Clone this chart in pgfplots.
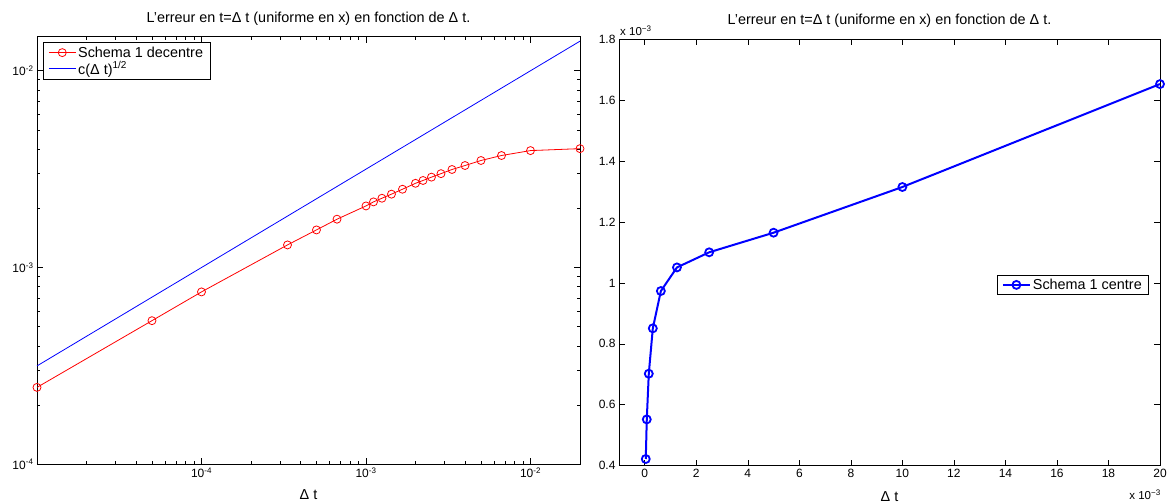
\documentclass[border=0pt]{standalone}
\usepackage{fontspec}
\setmainfont{Liberation Sans}
\usepackage{pgfplots}
\pgfplotsset{compat=1.18}

\newcommand{\txt}{\fontsize{14.4}{16}\selectfont}
\newcommand{\tck}{\fontsize{12}{14}\selectfont}
\newcommand{\pw}[1]{10\textsuperscript{#1}}

\pgfplotsset{
  matlab/.style={
    scale only axis,
    anchor=south west,
    axis line style={black, line width=0.9pt},
    tick align=inside,
    major tick length=6pt,
    minor tick length=3pt,
    every tick/.style={black, line width=0.6pt},
    tick label style={font=\tck},
    /pgf/number format/assume math mode=true,
    title style={font=\txt, anchor=south, at={(0.5,1)}, yshift=2pt},
    legend style={font=\txt, draw=black, line width=0.8pt, fill=white,
      inner xsep=5pt, inner ysep=2pt, row sep=-1pt, cells={anchor=west},
      /tikz/every even column/.append style={column sep=3pt}},
    legend image code/.code={%
      \draw[mark repeat=2, mark phase=2, #1]
        plot coordinates {(0pt,0pt) (13.5pt,0pt) (27pt,0pt)};},
  }
}

\begin{document}
\begin{tikzpicture}
\useasboundingbox (0,0) rectangle (1168pt,502pt);

% Schema 1 decentre, log-log
\begin{axis}[
  matlab,
  at={(37pt,37.7pt)},
  width=543pt, height=427.6pt,
  xmode=log, ymode=log,
  xmin=1e-5, xmax=2e-2,
  ymin=1e-4, ymax=1.49e-2,
  xtick={1e-4,1e-3,1e-2},
  xticklabels={\pw{-4},\pw{-3},\pw{-2}},
  minor xtick={2e-5,3e-5,4e-5,5e-5,6e-5,7e-5,8e-5,9e-5,
               2e-4,3e-4,4e-4,5e-4,6e-4,7e-4,8e-4,9e-4,
               2e-3,3e-3,4e-3,5e-3,6e-3,7e-3,8e-3,9e-3},
  ytick={1e-4,1e-3,1e-2},
  yticklabels={\pw{-4},\pw{-3},\pw{-2}},
  minor ytick={2e-4,3e-4,4e-4,5e-4,6e-4,7e-4,8e-4,9e-4,
               2e-3,3e-3,4e-3,5e-3,6e-3,7e-3,8e-3,9e-3},
  title={L'erreur en t=Δ t (uniforme en x) en fonction de Δ t.},
  xlabel={Δ t},
  xlabel style={font=\txt, anchor=north, at={(axis description cs:0.5,0)}, yshift=-22pt},
  legend style={at={(0.011,0.987)}, anchor=north west},
]
\addplot[color=red, line width=0.8pt, mark=o, mark size=4pt,
         mark options={line width=0.8pt}]
  coordinates {
  (1e-5, 2.46e-4)
  (5e-5, 5.37e-4)
  (1e-4, 7.52e-4)
  (3.3333e-4, 1.303e-3)
  (5e-4, 1.553e-3)
  (6.6667e-4, 1.761e-3)
  (1e-3, 2.056e-3)
  (1.1111e-3, 2.156e-3)
  (1.25e-3, 2.25e-3)
  (1.4286e-3, 2.36e-3)
  (1.6667e-3, 2.50e-3)
  (2e-3, 2.68e-3)
  (2.2222e-3, 2.77e-3)
  (2.5e-3, 2.88e-3)
  (2.8571e-3, 3.00e-3)
  (3.3333e-3, 3.15e-3)
  (4e-3, 3.30e-3)
  (5e-3, 3.50e-3)
  (6.6667e-3, 3.71e-3)
  (1e-2, 3.93e-3)
  (2e-2, 4.02e-3)
  };
\addlegendentry{Schema 1 decentre}
\addplot[color=blue, line width=0.8pt, mark=none]
  coordinates {
  (1e-5, 3.1623e-4)
  (1e-4, 1e-3)
  (1e-3, 3.1623e-3)
  (1e-2, 1e-2)
  (2e-2, 1.4142e-2)
  };
\addlegendentry{c(Δ t)\textsuperscript{1/2}}
\end{axis}

% Schema 1 centre, linear axes in units of 1e-3
\begin{axis}[
  matlab,
  at={(619pt,36.3pt)},
  width=541pt, height=426.4pt,
  xmin=-1, xmax=20,
  ymin=0.4, ymax=1.8,
  xtick={0,2,...,20},
  ytick={0.4,0.6,0.8,1,1.2,1.4,1.6,1.8},
  yticklabel style={/pgf/number format/fixed, /pgf/number format/precision=1},
  title={L'erreur en t=Δ t (uniforme en x) en fonction de Δ t.},
  xlabel={Δ t},
  xlabel style={font=\txt, anchor=north, at={(axis description cs:0.5,0)}, yshift=-22pt},
  legend style={at={(0.98,0.424)}, anchor=east},
  clip=false,
]
\addplot[color=blue, line width=2pt, mark=o, mark size=4pt,
         mark options={line width=1.8pt}]
  coordinates {
  (0.0390625, 0.422)
  (0.078125, 0.552)
  (0.15625, 0.702)
  (0.3125, 0.851)
  (0.625, 0.9735)
  (1.25, 1.051)
  (2.5, 1.1006)
  (5, 1.165)
  (10, 1.315)
  (20, 1.653)
  };
\addlegendentry{Schema 1 centre}
\node[anchor=south west, font=\fontsize{11.5}{13}\selectfont, inner sep=1pt]
  at (rel axis cs:0,1) [yshift=2pt] {x \pw{−3}};
\node[anchor=north east, font=\fontsize{11.5}{13}\selectfont, inner sep=1pt]
  at (rel axis cs:1,0) [yshift=-23pt, xshift=2pt] {x \pw{−3}};
\end{axis}
\end{tikzpicture}
\end{document}
